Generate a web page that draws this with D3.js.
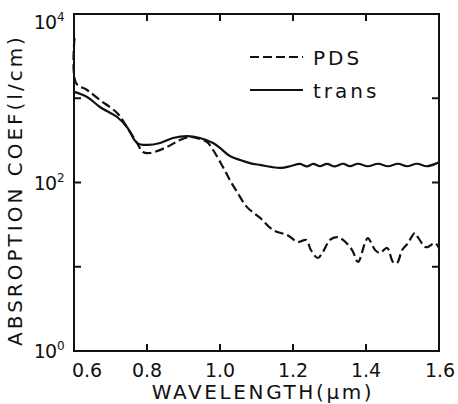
<!DOCTYPE html>
<html><head><meta charset="utf-8">
<script src="https://cdn.jsdelivr.net/npm/d3@7"></script>
<style>body{margin:0;background:#fff}svg{display:block}text{font-family:"DejaVu Sans",sans-serif;fill:#111}</style>
</head><body><svg id="c" width="458" height="404"></svg>
<script>
// Data: wavelength (µm) and absorption coefficient (1/cm)
const transWl = [0.600,0.636,0.671,0.718,0.745,0.773,0.800,0.836,0.871,0.910,0.945,0.981,1.000,1.027,1.055,1.082,1.112,1.140,1.167,1.195,1.219,1.238,1.255,1.274,1.293,1.315,1.337,1.356,1.378,1.405,1.433,1.460,1.488,1.512,1.540,1.567,1.595,1.600];
const transVal = [1190,1035,787,599,456,294,279,294,337,356,337,294,257,206,185,170,161,153,149,157,166,155,166,156,166,155,167,156,167,156,167,156,167,156,167,156,170,174];
const pdsWl = [0.6014,0.6055,0.636,0.671,0.718,0.745,0.773,0.789,0.808,0.855,0.890,0.918,0.945,0.964,0.981,1.008,1.027,1.047,1.074,1.110,1.145,1.184,1.214,1.236,1.249,1.268,1.282,1.301,1.321,1.337,1.362,1.378,1.397,1.405,1.425,1.438,1.458,1.474,1.485,1.499,1.515,1.534,1.542,1.562,1.570,1.589,1.600];
const pdsVal = [5190,1517,1253,953,668,456,294,230,224,264,319,347,328,303,243,153,107,77,51,38,27.3,23.8,19.7,20.8,15.8,12.7,15.0,20.8,22.5,20.8,15.8,11.4,19.1,21.9,15.8,14.6,16.7,11.4,11.1,15.8,19.1,25.2,22.5,17.2,17.2,19.1,16.7];
const xTicks = [0.6,0.8,1.0,1.2,1.4,1.6];
const xTickLabels = ["0.6","0.8","1.0","1.2","1.4","1.6"];
const yTicks = [1,10,100,1000,10000];
const yLabelExp = [{v:1,e:"0"},{v:100,e:"2"},{v:10000,e:"4"}];
const legendItems = [{name:"PDS",dash:"9,4"},{name:"trans",dash:null}];

const svg = d3.select("#c");
const L=74,R=439,T=14,B=351;
const x = d3.scaleLinear().domain([0.6,1.6]).range([L,R]);
const y = d3.scaleLog().domain([1,10000]).range([B,T]);
const ink="#111";

// curves
const line = d3.line().x(d=>x(d[0])).y(d=>y(d[1])).curve(d3.curveCatmullRom.alpha(0.5));
svg.append("path").datum(d3.zip(transWl,transVal)).attr("d",line)
  .attr("fill","none").attr("stroke",ink).attr("stroke-width",2.2).attr("stroke-linejoin","round");
svg.append("path").datum(d3.zip(pdsWl,pdsVal)).attr("d",line)
  .attr("fill","none").attr("stroke",ink).attr("stroke-width",2.2).attr("stroke-dasharray","9,4");

// frame
svg.append("rect").attr("x",L).attr("y",T).attr("width",R-L).attr("height",B-T)
  .attr("fill","none").attr("stroke",ink).attr("stroke-width",2);

// inward ticks
const inner = xTicks.filter(t=>t>0.6&&t<1.6);
const tk = svg.append("g").attr("stroke",ink).attr("stroke-width",2);
inner.forEach(t=>{
  tk.append("line").attr("x1",x(t)).attr("x2",x(t)).attr("y1",B).attr("y2",B-7);
  tk.append("line").attr("x1",x(t)).attr("x2",x(t)).attr("y1",T).attr("y2",T+7);
});
yTicks.filter(v=>v>1&&v<10000).forEach(v=>{
  tk.append("line").attr("x1",L).attr("x2",L+7).attr("y1",y(v)).attr("y2",y(v));
  tk.append("line").attr("x1",R).attr("x2",R-7).attr("y1",y(v)).attr("y2",y(v));
});

// x tick labels
xTicks.forEach((t,i)=>{
  let cx = x(t); if(i===0) cx += 13; if(i===xTicks.length-1) cx += 1;
  svg.append("text").attr("x",cx).attr("y",377).attr("text-anchor","middle")
    .attr("font-size",19).text(xTickLabels[i]);
});
// y tick labels
yLabelExp.forEach(d=>{
  const by = Math.max(y(d.v)+7, 29);
  svg.append("text").attr("x",56).attr("y",by).attr("text-anchor","end")
    .attr("font-size",19).attr("letter-spacing",-1).text("10");
  svg.append("text").attr("x",57).attr("y",by-8).attr("font-size",12).text(d.e);
});

// axis titles
svg.append("text").attr("x",263).attr("y",399).attr("text-anchor","middle")
  .attr("font-size",20).attr("letter-spacing",2.6).text("WAVELENGTH(μm)");
svg.append("text").attr("transform","translate(22,190) rotate(-90)").attr("text-anchor","middle")
  .attr("font-size",20).attr("letter-spacing",3).text("ABSROPTION COEF(l/cm)");

// legend
legendItems.forEach((d,i)=>{
  const ly = 57 + i*33;
  const ln = svg.append("line").attr("x1",250).attr("x2",303).attr("y1",ly).attr("y2",ly)
    .attr("stroke",ink).attr("stroke-width",2);
  if(d.dash) ln.attr("stroke-dasharray",d.dash);
  svg.append("text").attr("x",313).attr("y",ly+8).attr("font-size",20)
    .attr("letter-spacing",3).text(d.name);
});
</script></body></html>
